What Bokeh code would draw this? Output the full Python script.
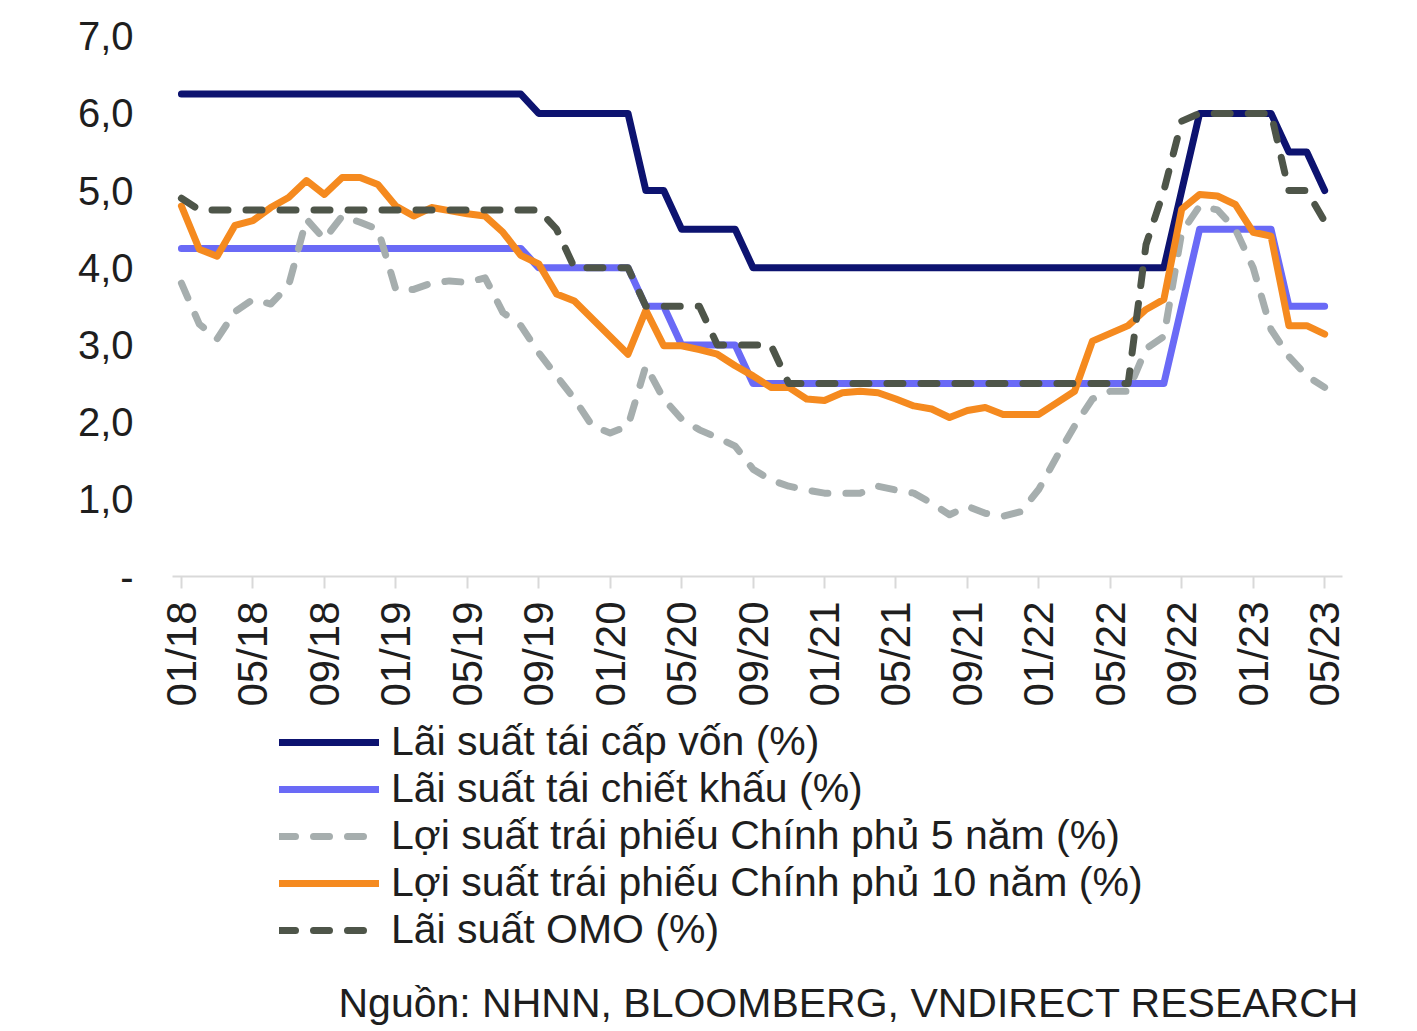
from math import pi
from bokeh.plotting import figure
from bokeh.layouts import column
from bokeh.models import Range1d, FixedTicker, Legend, LegendItem, Label
from bokeh.embed import file_html
from bokeh.resources import INLINE

# ---- data (monthly, 01/2018 .. 05/2023) ----
tick_labels = ["01/18", "05/18", "09/18", "01/19", "05/19", "09/19", "01/20", "05/20",
               "09/20", "01/21", "05/21", "09/21", "01/22", "05/22", "09/22", "01/23", "05/23"]

refinancing = [
    6.25, 6.25, 6.25, 6.25, 6.25, 6.25, 6.25, 6.25, 6.25, 6.25, 6.25, 6.25,
    6.25, 6.25, 6.25, 6.25, 6.25, 6.25, 6.25, 6.25, 6.0, 6.0, 6.0, 6.0,
    6.0, 6.0, 5.0, 5.0, 4.5, 4.5, 4.5, 4.5, 4.0, 4.0, 4.0, 4.0,
    4.0, 4.0, 4.0, 4.0, 4.0, 4.0, 4.0, 4.0, 4.0, 4.0, 4.0, 4.0,
    4.0, 4.0, 4.0, 4.0, 4.0, 4.0, 4.0, 4.0, 5.0, 6.0, 6.0, 6.0,
    6.0, 6.0, 5.5, 5.5, 5.0]

discount = [
    4.25, 4.25, 4.25, 4.25, 4.25, 4.25, 4.25, 4.25, 4.25, 4.25, 4.25, 4.25,
    4.25, 4.25, 4.25, 4.25, 4.25, 4.25, 4.25, 4.25, 4.0, 4.0, 4.0, 4.0,
    4.0, 4.0, 3.5, 3.5, 3.0, 3.0, 3.0, 3.0, 2.5, 2.5, 2.5, 2.5,
    2.5, 2.5, 2.5, 2.5, 2.5, 2.5, 2.5, 2.5, 2.5, 2.5, 2.5, 2.5,
    2.5, 2.5, 2.5, 2.5, 2.5, 2.5, 2.5, 2.5, 3.5, 4.5, 4.5, 4.5,
    4.5, 4.5, 3.5, 3.5, 3.5]

yield5 = [
    3.80, 3.27, 3.08, 3.43, 3.59, 3.53, 3.77, 4.63, 4.37, 4.67, 4.59, 4.50,
    3.72, 3.72, 3.80, 3.83, 3.81, 3.87, 3.42, 3.25, 2.90, 2.60, 2.30, 1.95,
    1.86, 1.95, 2.73, 2.30, 2.04, 1.90, 1.80, 1.69, 1.39, 1.25, 1.17, 1.12,
    1.08, 1.08, 1.08, 1.17, 1.12, 1.08, 0.95, 0.80, 0.91, 0.82, 0.78, 0.84,
    1.13, 1.55, 1.95, 2.30, 2.40, 2.40, 2.95, 3.11, 4.46, 4.80, 4.75, 4.50,
    4.00, 3.20, 2.85, 2.60, 2.45]

yield10 = [
    4.80, 4.24, 4.15, 4.55, 4.61, 4.78, 4.91, 5.13, 4.95, 5.17, 5.17, 5.08,
    4.80, 4.67, 4.78, 4.74, 4.70, 4.67, 4.46, 4.16, 4.05, 3.66, 3.57, 3.34,
    3.11, 2.88, 3.45, 2.99, 2.99, 2.94, 2.88, 2.73, 2.60, 2.45, 2.45, 2.30,
    2.28, 2.38, 2.40, 2.38, 2.30, 2.21, 2.17, 2.06, 2.15, 2.19, 2.10, 2.10,
    2.10, 2.25, 2.40, 3.05, 3.15, 3.25, 3.46, 3.59, 4.76, 4.95, 4.93, 4.82,
    4.46, 4.41, 3.25, 3.25, 3.14]

omo = [
    4.90, 4.75, 4.75, 4.75, 4.75, 4.75, 4.75, 4.75, 4.75, 4.75, 4.75, 4.75,
    4.75, 4.75, 4.75, 4.75, 4.75, 4.75, 4.75, 4.75, 4.75, 4.5, 4.0, 4.0,
    4.0, 4.0, 3.5, 3.5, 3.5, 3.5, 3.0, 3.0, 3.0, 3.0, 2.5, 2.5,
    2.5, 2.5, 2.5, 2.5, 2.5, 2.5, 2.5, 2.5, 2.5, 2.5, 2.5, 2.5,
    2.5, 2.5, 2.5, 2.5, 2.5, 2.5, 4.3, 5.0, 5.9, 6.0, 6.0, 6.0,
    6.0, 6.0, 5.0, 5.0, 4.6]

series_names = [
    "Lãi suất tái cấp vốn (%)",
    "Lãi suất tái chiết khấu (%)",
    "Lợi suất trái phiếu Chính phủ 5 năm (%)",
    "Lợi suất trái phiếu Chính phủ 10 năm (%)",
    "Lãi suất OMO (%)",
]
y_ticks = [0, 1, 2, 3, 4, 5, 6, 7]
y_tick_labels = ["-", "1,0", "2,0", "3,0", "4,0", "5,0", "6,0", "7,0"]
source_text = "Nguồn: NHNN, BLOOMBERG, VNDIRECT RESEARCH"

# ---- main chart ----
FONT = "Liberation Sans"
TXT = "#1e1e1e"
x = list(range(len(refinancing)))
tick_pos = list(range(0, len(refinancing), 4))

p = figure(output_backend="svg", toolbar_location=None,
           frame_width=1170, frame_height=548,
           x_range=Range1d(-0.5, 65), y_range=Range1d(0, 7.1),
           min_border_left=172, min_border_right=50, min_border_top=28,
           min_border_bottom=140, background_fill_color="white",
           border_fill_color="white", outline_line_color=None)
p.grid.visible = False

styles = [
    dict(color="#0d1370", dash="solid"),
    dict(color="#6a6af6", dash="solid"),
    dict(color="#a6aeae", dash="16 18"),
    dict(color="#f58a1f", dash="solid"),
    dict(color="#4e5549", dash="16 18"),
]
data = [refinancing, discount, yield5, yield10, omo]
for vals, st in zip(data, styles):
    p.line(x, vals, line_color=st["color"], line_width=7,
           line_dash=st["dash"], line_join="round", line_cap="round")

xa = p.xaxis[0]
xa.ticker = FixedTicker(ticks=tick_pos)
xa.major_label_overrides = {t: l for t, l in zip(tick_pos, tick_labels)}
xa.major_label_orientation = pi / 2
xa.major_label_text_font = FONT
xa.major_label_text_font_size = "42px"
xa.major_label_text_color = TXT
xa.major_label_standoff = 13
xa.axis_line_color = "#d9d9d9"
xa.axis_line_width = 2
xa.major_tick_line_color = "#d9d9d9"
xa.major_tick_line_width = 2
xa.major_tick_in = 0
xa.major_tick_out = 12
xa.minor_tick_line_color = None

ya = p.yaxis[0]
ya.ticker = FixedTicker(ticks=y_ticks)
ya.major_label_overrides = {t: l for t, l in zip(y_ticks, y_tick_labels)}
ya.major_label_text_font = FONT
ya.major_label_text_font_size = "40px"
ya.major_label_text_color = TXT
ya.major_label_standoff = 33
ya.axis_line_color = None
ya.major_tick_line_color = None
ya.minor_tick_line_color = None

# ---- legend + source panel (series drawn out of view, used for legend keys) ----
q = figure(output_backend="svg", toolbar_location=None,
           frame_width=1392, frame_height=310,
           x_range=Range1d(1000, 1001), y_range=Range1d(0, 1),
           x_axis_location=None, y_axis_location=None,
           min_border_left=0, min_border_right=0, min_border_top=0,
           min_border_bottom=0, outline_line_color=None,
           background_fill_color="white", border_fill_color="white")
q.grid.visible = False

legend_renderers = [q.line(x, vals, line_color=st["color"], line_width=7,
                           line_dash=st["dash"], line_cap="round")
                    for vals, st in zip(data, styles)]
items = [LegendItem(label=n, renderers=[r]) for n, r in zip(series_names, legend_renderers)]
legend = Legend(items=items, location=(279, 73), orientation="vertical",
                label_text_font=FONT, label_text_font_size="41px",
                label_text_color=TXT, glyph_width=100, glyph_height=40,
                label_height=40, label_standoff=12, spacing=0,
                padding=0, margin=0, border_line_color=None,
                background_fill_alpha=0)
q.add_layout(legend, "center")

q.add_layout(Label(x=166, y=24, x_units="screen", y_units="screen",
                   text=source_text, text_align="left", text_baseline="middle",
                   text_font=FONT, text_font_size="41px", text_color=TXT))

layout = column(p, q, spacing=0)
open("out.html", "w").write(file_html(layout, INLINE))
